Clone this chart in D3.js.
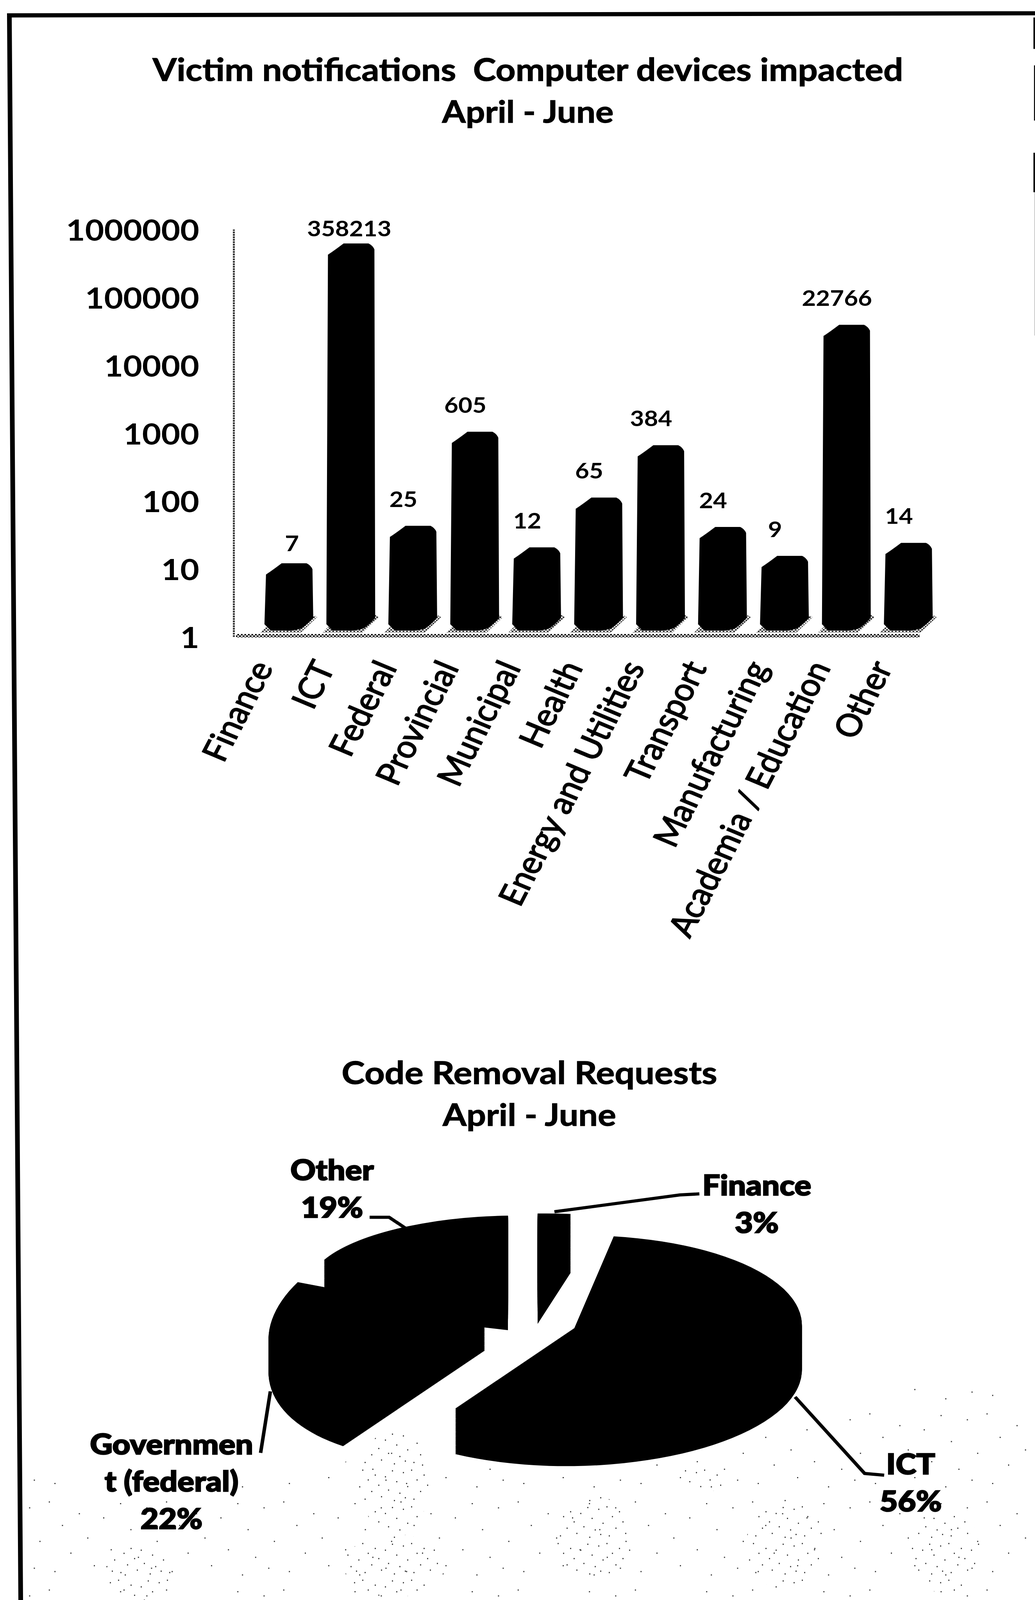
<!DOCTYPE html>
<html>
<head>
<meta charset="utf-8">
<script src="https://cdn.jsdelivr.net/npm/d3@7"></script>
<style>
  html, body { margin: 0; padding: 0; background: #fff; width: 100%; height: 100%; overflow: hidden; }
  svg { display: block; width: 100vw; height: 100vh; }
  text { font-family: Lato, "Open Sans", sans-serif; fill: #000; white-space: pre; }
</style>
</head>
<body>
<svg id="chart"></svg>
<script>
// bar chart data
const barCategories = ['Finance', 'ICT', 'Federal', 'Provincial', 'Municipal', 'Health',
    'Energy and Utilities', 'Transport', 'Manufacturing', 'Academia / Education', 'Other'];
const barValues = [7, 358213, 25, 605, 12, 65, 384, 24, 9, 22766, 14];
const axisTicks = [1, 10, 100, 1000, 10000, 100000, 1000000];

// pie chart data
const pieNames = ['ICT', 'Government (federal)', 'Other', 'Finance'];
const pieShares = [56, 22, 19, 3];
const pieLabelLines = [['ICT'], ['Governmen', 't (federal)'], ['Other'], ['Finance']];

const WIDTH = 2649, HEIGHT = 4578;
// the drawing always fills the window, whatever height the browser really grants
const svg = d3.select('#chart').attr('viewBox', `0 0 ${WIDTH} ${HEIGHT}`).attr('preserveAspectRatio', 'none');
const defs = svg.append('defs');

// stippled grey of the scan, used for the floor and bar shadows
const stipple = defs.append('pattern').attr('id', 'stipple')
    .attr('width', 9).attr('height', 9).attr('patternUnits', 'userSpaceOnUse');
stipple.append('rect').attr('width', 4.5).attr('height', 4.5).attr('fill', '#000');
stipple.append('rect').attr('x', 4.5).attr('y', 4.5).attr('width', 4.5).attr('height', 4.5).attr('fill', '#000');

// scan specks at the bottom of the page
const specks = [[3, 7], [31, 12], [52, 5], [84, 19], [14, 38], [66, 33], [42, 52], [93, 48],
    [22, 71], [75, 66], [58, 88], [8, 92], [36, 84], [100, 81], [110, 24], [118, 62]];

function speckPattern(id, zoom) {
    const tile = defs.append('pattern').attr('id', id)
        .attr('width', 125 * zoom).attr('height', 105 * zoom).attr('patternUnits', 'userSpaceOnUse');
    tile.selectAll('rect').data(specks).enter().append('rect')
        .attr('x', d => d[0] * zoom).attr('y', d => d[1] * zoom)
        .attr('width', 3).attr('height', 3).attr('fill', '#222');
}
speckPattern('specks', 2.4);
speckPattern('specksDense', 1);

svg.append('path').attr('fill', 'url(#specks)')
    .attr('d', 'M60,4578 L60,4230 L700,4250 L1000,4140 L1170,4190 L1500,4230 L2050,4080 L2400,3950 L2640,4000 L2640,4578 Z');
[[1010, 4240, 90, 150], [1010, 4480, 130, 90], [360, 4500, 90, 80], [1520, 4400, 100, 120], [2010, 4420, 100, 130], [2420, 4440, 90, 120], [1800, 4230, 60, 40]]
    .forEach(c => svg.append('ellipse').attr('cx', c[0]).attr('cy', c[1]).attr('rx', c[2]).attr('ry', c[3]).attr('fill', 'url(#specksDense)'));

// page frame, slightly skewed like the scan
const frame = svg.append('g').attr('fill', 'none').attr('stroke', '#000');
frame.append('path').attr('stroke-width', 12).attr('d', 'M53,4578 L24,44 L2649,38');
frame.append('path').attr('stroke-width', 4).attr('d', 'M2647,50 L2647,140');
frame.append('path').attr('stroke-width', 3).attr('d', 'M2648,187 L2648,345');
frame.append('path').attr('stroke-width', 4).attr('d', 'M2647,437 L2647,550');
frame.append('path').attr('stroke-width', 1.5).attr('stroke', '#bbb').attr('d', 'M2648,550 L2648,960');

function title(lines, x, ys, sizes) {
    svg.selectAll(null).data(lines).enter().append('text')
        .attr('x', x).attr('y', (d, i) => ys[i])
        .attr('text-anchor', 'middle').attr('dominant-baseline', 'middle')
        .attr('font-size', (d, i) => sizes[i]).attr('font-weight', 700)
        .attr('stroke', '#000').attr('stroke-width', 1.5)
        .text(d => d);
}

title(['Victim notifications  Computer devices impacted', 'April - June'], 1351, [208, 329], [89, 87]);
title(['Code Removal Requests', 'April - June'], 1355, [3079, 3199], [90, 88]);

// ---- bar chart ----
const y = d3.scaleLog().domain([1, 1000000]).range([1822, 656]);
const x = d3.scaleBand().domain(barCategories).range([661, 2405]).paddingInner(0.25).paddingOuter(0.125);

const BAR_LIFT = 24;   // 3D floor sits above the axis zero
const CAP = 22;        // the rounded cap rises above the value

const floor = svg.append('g');
floor.append('rect').attr('x', 604).attr('y', 1814).attr('width', 1750).attr('height', 10).attr('fill', 'url(#stipple)');

const axis = d3.axisLeft(y).tickValues(axisTicks).tickFormat(d3.format('d')).tickSize(0).tickPadding(88);
const axisG = svg.append('g').attr('transform', 'translate(598,0)').call(axis);
axisG.select('.domain').attr('stroke-width', 5).attr('fill', 'none')
    .attr('stroke', '#333').attr('stroke-dasharray', '5 2');
axisG.selectAll('text').attr('font-size', 84).attr('font-weight', 700).attr('fill', '#000').attr('y', 5);

function barPath(name, value) {
    const x0 = x(name), x1 = x0 + x.bandwidth();
    const top = y(value) - BAR_LIFT - CAP;
    const base = y(1) - BAR_LIFT + 6;
    return `M${x0},${top + 32} Q${x0 + 14},${top + 22} ${x0 + 40},${top} L${x1 - 15},${top} Q${x1 - 4},${top + 6} ${x1},${top + 17}
        L${x1 + 2},${base - 36} Q${x1 - 14},${base - 16} ${x1 - 28},${base - 6} Q${x1 - 50},${base + 2} ${x1 - 70},${base} L${x0 + 12},${base} L${x0 - 4},${base - 18} Z`;
}

// shadow behind each bar foot
svg.append('g').selectAll('path').data(barCategories).enter().append('path')
    .attr('fill', 'url(#stipple)').attr('opacity', 0.8)
    .attr('d', d => {
        const x0 = x(d), x1 = x0 + x.bandwidth(), base = y(1) - BAR_LIFT + 6;
        return `M${x0 - 14},${base + 6} L${x1 - 30},${base + 6} L${x1 + 12},${base - 38} L${x1},${base - 46} L${x0},${base - 10} Z`;
    });

svg.append('g').selectAll('path').data(barCategories).enter().append('path')
    .attr('fill', '#000')
    .attr('d', (d, i) => barPath(d, barValues[i]));

// value labels sit up and to the left of the bars, the two first ones closer
const labelShift = { Finance: [7, -51], ICT: [-5, -36] };
svg.append('g').selectAll('text').data(barCategories).enter().append('text')
    .attr('x', d => x(d) + x.bandwidth() / 2 + (labelShift[d] ? labelShift[d][0] : -25))
    .attr('y', (d, i) => y(barValues[i]) - BAR_LIFT - CAP + (labelShift[d] ? labelShift[d][1] : -70))
    .attr('text-anchor', 'middle').attr('dominant-baseline', 'middle')
    .attr('font-size', 62).attr('font-weight', 700)
    .text((d, i) => barValues[i]);

svg.append('g').selectAll('text').data(barCategories).enter().append('text')
    .attr('transform', d => `translate(${x(d) + x.bandwidth() / 2 - 40},1910) rotate(-65)`)
    .attr('text-anchor', 'end')
    .attr('font-size', 89).attr('font-weight', 400)
    .attr('stroke', '#000').attr('stroke-width', 2.5)
    .text(d => d);

// ---- pie chart ----
const deg = Math.PI / 180;
const pie = d3.pie().sort(null).startAngle(8 * deg).endAngle(368 * deg);
const pieArcs = pie(pieShares);
const arc = d3.arc().innerRadius(0).outerRadius(1000);

// every slice is pulled out and foreshortened on its own in the original,
// k is the horizontal shear of that slice's perspective
const sliceLayout = [
    { cx: 1470, cy: 3800, rx: 582, ry: 265, k: -20, depth: 130 },
    { cx: 1241, cy: 3770, rx: 543, ry: 315, k: -109, depth: 95 },
    { cx: 1300, cy: 3666, rx: 506, ry: 188, k: -25, depth: 140 },
    { cx: 1376, cy: 3620, rx: 452, ry: 148, k: -22, depth: 168 }
];
const drawOrder = [1, 2, 0, 3];

const pieG = svg.append('g');
drawOrder.forEach(i => {
    const s = sliceLayout[i];
    pieG.selectAll(null).data(d3.range(0, s.depth + 1, 2)).enter().append('path')
        .attr('fill', '#000')
        .attr('transform', d => `matrix(${s.rx / 1000},0,${s.k / 1000},${s.ry / 1000},${s.cx},${s.cy + d})`)
        .attr('d', arc(pieArcs[i]));
});

// leader lines
const leaders = [
    [[2035, 3997], [2213, 4216], [2263, 4221]],
    [[692, 3981], [667, 4157]],
    [[946, 3483], [996, 3483], [1039, 3515]],
    [[1419, 3467], [1453, 3462], [1740, 3419], [1790, 3416]]
];
svg.append('g').selectAll('path').data(leaders).enter().append('path')
    .attr('fill', 'none').attr('stroke', '#000').attr('stroke-width', 9)
    .attr('d', d3.line());

// line centres of the pie labels, first name line to the percentage
const labelPos = [[2331, 4197], [439, 4140], [850, 3356], [1937, 3400]];
pieNames.forEach((name, i) => {
    const lines = pieLabelLines[i].concat(pieShares[i] + '%');
    svg.append('g').selectAll('text').data(lines).enter().append('text')
        .attr('x', labelPos[i][0]).attr('y', (d, k) => labelPos[i][1] + k * 107)
        .attr('text-anchor', 'middle').attr('dominant-baseline', 'middle')
        .attr('font-size', 80).attr('font-weight', 900)
        .attr('stroke', '#000').attr('stroke-width', 3)
        .text(d => d);
});
</script>
</body>
</html>
